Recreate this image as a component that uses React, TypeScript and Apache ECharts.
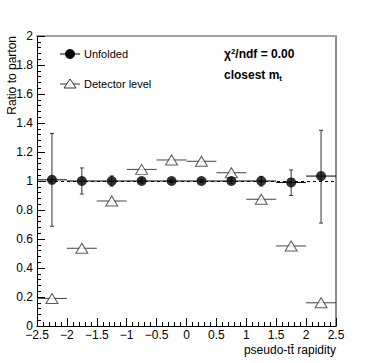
import React, { useEffect, useRef } from "react";
import * as echarts from "echarts";

const xCenters = [-2.25, -1.75, -1.25, -0.75, -0.25, 0.25, 0.75, 1.25, 1.75, 2.25];
const binHalfWidth = 0.25;
const unfolded = [1.008, 1.0, 1.0, 1.0, 1.0, 1.0, 1.0, 1.0, 0.99, 1.034];
const unfoldedErrUp = [0.32, 0.09, 0.035, 0.015, 0.01, 0.01, 0.015, 0.032, 0.086, 0.316];
const unfoldedErrDown = [0.32, 0.09, 0.035, 0.015, 0.01, 0.01, 0.015, 0.035, 0.09, 0.324];
const detector = [0.19, 0.536, 0.862, 1.08, 1.145, 1.136, 1.057, 0.874, 0.552, 0.16];

const FONT = "Liberation Sans, Arial, Helvetica, sans-serif";

export default function App() {
  const ref = useRef<HTMLDivElement>(null);
  useEffect(() => {
    if (!ref.current) return;
    const chart = echarts.init(ref.current, undefined, { renderer: "svg" });

    const unfoldedErr = xCenters.map((x, i) => [
      x,
      unfolded[i],
      x - binHalfWidth,
      x + binHalfWidth,
      unfolded[i] - unfoldedErrDown[i],
      unfolded[i] + unfoldedErrUp[i],
    ]);
    const detErr = xCenters.map((x, i) => [x, detector[i], x - binHalfWidth, x + binHalfWidth]);

    const renderUnfErr = (params: any, api: any) => {
      const x = api.value(0), y = api.value(1);
      const l = api.coord([api.value(2), y]);
      const r = api.coord([api.value(3), y]);
      const lo = api.coord([x, api.value(4)]);
      const hi = api.coord([x, api.value(5)]);
      const st = { stroke: "#000", lineWidth: 1 };
      const vst = { stroke: "#333", lineWidth: 1 };
      return {
        type: "group",
        children: [
          { type: "line", shape: { x1: l[0], y1: l[1], x2: r[0], y2: r[1] }, style: st },
          { type: "line", shape: { x1: lo[0], y1: lo[1], x2: hi[0], y2: hi[1] }, style: vst },
          { type: "line", shape: { x1: hi[0] - 2, y1: hi[1], x2: hi[0] + 2, y2: hi[1] }, style: vst },
          { type: "line", shape: { x1: lo[0] - 2, y1: lo[1], x2: lo[0] + 2, y2: lo[1] }, style: vst },
        ],
      };
    };
    const renderDetErr = (params: any, api: any) => {
      const y = api.value(1);
      const l = api.coord([api.value(2), y]);
      const r = api.coord([api.value(3), y]);
      return {
        type: "line",
        shape: { x1: l[0], y1: l[1], x2: r[0], y2: r[1] },
        style: { stroke: "#444", lineWidth: 1 },
      };
    };

    chart.setOption({
      animation: false,
      backgroundColor: "#fff",
      grid: { left: 37, right: 38, top: 36, bottom: 37 },
      xAxis: [
        {
          type: "value",
          min: -2.5,
          max: 2.5,
          interval: 0.5,
          axisLine: { onZero: false, lineStyle: { color: "#000", width: 1 } },
          axisTick: { inside: true, length: 8, lineStyle: { color: "#000" } },
          minorTick: { show: true, splitNumber: 5, length: 4, lineStyle: { color: "#000" } },
          splitLine: { show: false },
          axisLabel: {
            margin: 3,
            color: "#000",
            fontSize: 12,
            fontFamily: FONT,
            formatter: (v: number) => String(Math.round(v * 10) / 10).replace("-", "\u2212"),
          },
        },
        {
          type: "value",
          position: "top",
          min: -2.5,
          max: 2.5,
          axisLine: { show: true, onZero: false, lineStyle: { color: "#a0a0a0", width: 2 } },
          axisTick: { show: false },
          axisLabel: { show: false },
          splitLine: { show: false },
        },
      ],
      yAxis: [
        {
          type: "value",
          min: 0,
          max: 2,
          interval: 0.2,
          axisLine: { show: true, onZero: false, lineStyle: { color: "#000", width: 1 } },
          axisTick: { show: true, inside: true, length: 8, lineStyle: { color: "#000" } },
          minorTick: { show: true, splitNumber: 5, length: 4, lineStyle: { color: "#000" } },
          splitLine: { show: false },
          axisLabel: {
            margin: 4,
            color: "#000",
            fontSize: 12,
            fontFamily: FONT,
            formatter: (v: number) => String(Math.round(v * 10) / 10),
          },
        },
        {
          type: "value",
          position: "right",
          min: 0,
          max: 2,
          axisLine: { show: true, onZero: false, lineStyle: { color: "#666", width: 1.5 } },
          axisTick: { show: false },
          axisLabel: { show: false },
          splitLine: { show: false },
        },
      ],
      series: [
        {
          type: "custom",
          name: "detErr",
          renderItem: renderDetErr,
          data: detErr,
          encode: { x: [0, 2, 3], y: 1 },
          z: 2,
          silent: true,
        },
        {
          type: "custom",
          name: "unfErr",
          renderItem: renderUnfErr,
          data: unfoldedErr,
          encode: { x: [0, 2, 3], y: [1, 4, 5] },
          z: 2,
          silent: true,
          markLine: {
            silent: true,
            symbol: "none",
            label: { show: false },
            lineStyle: { color: "#000", type: [3, 3], width: 1 },
            data: [{ yAxis: 1 }],
          },
        },
        {
          type: "scatter",
          name: "Detector level",
          data: xCenters.map((x, i) => [x, detector[i]]),
          symbol: "triangle",
          symbolSize: [12, 10],
          itemStyle: { color: "#fff", borderColor: "#333", borderWidth: 1 },
          z: 3,
        },
        {
          type: "scatter",
          name: "Unfolded",
          data: xCenters.map((x, i) => [x, unfolded[i]]),
          symbol: "circle",
          symbolSize: 10,
          itemStyle: { color: "#000" },
          z: 4,
        },
      ],
      graphic: [
        {
          type: "text",
          x: 12,
          y: 36,
          rotation: Math.PI / 2,
          style: {
            text: "Ratio to parton",
            fill: "#000",
            font: `12px ${FONT}`,
            textAlign: "right",
            textVerticalAlign: "middle",
          },
        },
        {
          type: "text",
          x: 336,
          y: 350,
          style: {
            text: "pseudo-tt\u0304 rapidity",
            fill: "#000",
            font: `12px ${FONT}`,
            textAlign: "right",
            textVerticalAlign: "middle",
          },
        },
        { type: "line", shape: { x1: 60, y1: 54, x2: 80, y2: 54 }, style: { stroke: "#000", lineWidth: 1 } },
        { type: "circle", shape: { cx: 70, cy: 54, r: 5 }, style: { fill: "#000" } },
        {
          type: "text",
          x: 84,
          y: 54,
          style: { text: "Unfolded", fill: "#000", font: `11px ${FONT}`, textVerticalAlign: "middle" },
        },
        { type: "line", shape: { x1: 60, y1: 84, x2: 80, y2: 84 }, style: { stroke: "#333", lineWidth: 1 } },
        {
          type: "polygon",
          shape: { points: [[70, 79], [76, 88], [64, 88]] },
          style: { fill: "#fff", stroke: "#333", lineWidth: 1 },
        },
        {
          type: "text",
          x: 84,
          y: 84,
          style: { text: "Detector level", fill: "#000", font: `11px ${FONT}`, textVerticalAlign: "middle" },
        },
        {
          type: "text",
          x: 224,
          y: 54,
          style: {
            text: "\u03c7{sup|2}/ndf = 0.00",
            fill: "#000",
            font: `bold 12px ${FONT}`,
            textVerticalAlign: "middle",
            rich: {
              sup: { fontSize: 8, fontWeight: "bold", fontFamily: FONT, verticalAlign: "top", padding: [0, 0, 6, 0] },
            },
          },
        },
        {
          type: "text",
          x: 224,
          y: 75,
          style: {
            text: "closest m{sub|t}",
            fill: "#000",
            font: `bold 12px ${FONT}`,
            textVerticalAlign: "middle",
            rich: {
              sub: { fontSize: 8, fontWeight: "bold", fontFamily: FONT, padding: [6, 0, 0, 0] },
            },
          },
        },
      ],
    });
    return () => chart.dispose();
  }, []);
  return (
    <div
      ref={ref}
      style={{ position: "fixed", left: 0, top: 0, width: 374, height: 363, background: "#fff" }}
    />
  );
}
